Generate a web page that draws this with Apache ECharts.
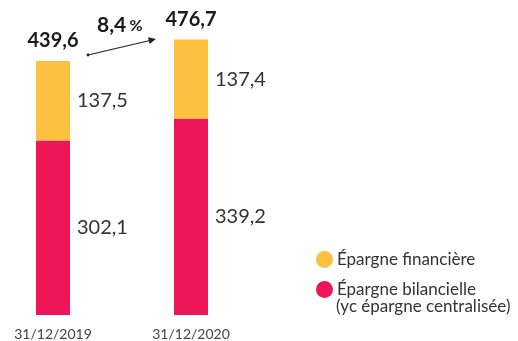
<!DOCTYPE html>
<html>
<head>
<meta charset="utf-8">
<script src="https://cdn.jsdelivr.net/npm/echarts@6/dist/echarts.min.js"></script>
<style>
  html, body { margin: 0; padding: 0; background: #fff; }
  #chart { width: 518px; height: 341px; }
</style>
</head>
<body>
<div id="chart"></div>
<script>
// Dates (year-end)
const categories = ['31/12/2019', '31/12/2020'];
// Savings components
const epargneBilancielle = [302.1, 339.2];
const epargneFinanciere = [137.5, 137.4];
// Published totals
const totals = [439.6, 476.7];
// Year-on-year growth
const growthLabel = '8,4';

const RED = '#EE1558';
const YELLOW = '#FDC041';
const FONT = 'Lato';

const fmt = v => v.toFixed(1).replace('.', ',');

const chart = echarts.init(document.getElementById('chart'));

const segLabel = {
  show: true,
  position: 'right',
  distance: 7,
  fontFamily: FONT,
  fontSize: 20,
  color: '#333',
  formatter: p => fmt(p.value)
};

chart.setOption({
  animation: false,
  textStyle: { fontFamily: FONT },
  grid: { left: 53, width: 138, top: 26, height: 289 },
  xAxis: {
    type: 'category',
    data: categories,
    boundaryGap: false,
    axisLine: { show: false },
    axisTick: { show: false },
    axisLabel: { margin: 12, fontFamily: FONT, fontSize: 14, color: '#444' }
  },
  yAxis: { type: 'value', min: 0, max: 500, show: false },
  legend: {
    orient: 'vertical',
    left: 311,
    top: 246,
    icon: 'circle',
    itemWidth: 17,
    itemHeight: 17,
    itemGap: 13,
    data: ['Épargne financière', 'Épargne bilancielle'],
    textStyle: { fontFamily: FONT, fontSize: 17, color: '#333', padding: [0, 0, 0, -1] }
  },
  series: [
    {
      name: 'Épargne bilancielle',
      type: 'bar',
      stack: 'total',
      barWidth: 34,
      data: epargneBilancielle,
      itemStyle: { color: RED },
      label: segLabel
    },
    {
      name: 'Épargne financière',
      type: 'bar',
      stack: 'total',
      barWidth: 34,
      data: epargneFinanciere,
      itemStyle: { color: YELLOW },
      label: segLabel
    },
    {
      name: 'Total',
      type: 'bar',
      barWidth: 34,
      barGap: '-100%',
      z: 1,
      data: totals,
      itemStyle: { color: 'rgba(0,0,0,0)' },
      label: {
        show: true,
        position: 'top',
        distance: 10,
        fontFamily: FONT,
        fontSize: 20,
        fontWeight: 'bold',
        color: '#1a1a1a',
        formatter: p => fmt(p.value)
      }
    }
  ],
  graphic: [
    {
      type: 'text',
      left: 336,
      top: 298,
      style: {
        text: '(yc épargne centralisée)',
        font: '17px ' + FONT,
        fill: '#333'
      }
    },
    {
      type: 'text',
      left: 97,
      top: 15,
      style: {
        text: '{a|' + growthLabel + '} {b|%}',
        rich: {
          a: { fontFamily: FONT, fontSize: 21, fontWeight: 'bold', fill: '#1a1a1a', color: '#1a1a1a' },
          b: { fontFamily: FONT, fontSize: 16, fontWeight: 'bold', fill: '#1a1a1a', color: '#1a1a1a' }
        }
      }
    },
    {
      type: 'line',
      shape: { x1: 88, y1: 55, x2: 152, y2: 40 },
      style: { stroke: '#222', lineWidth: 1.2 }
    },
    {
      type: 'circle',
      shape: { cx: 88, cy: 55, r: 1.4 },
      style: { fill: '#222' }
    },
    {
      type: 'polygon',
      shape: { points: [[156, 39], [148, 37.3], [149.6, 44]] },
      style: { fill: '#222' }
    }
  ]
});
</script>
</body>
</html>
